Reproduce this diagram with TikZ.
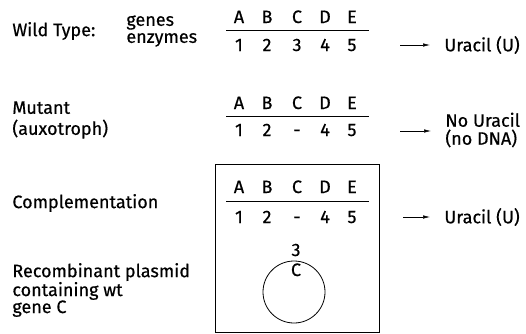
\documentclass[tikz,border=0pt]{standalone}
\usepackage{fontspec}
\setmainfont{Fira Sans}[RawFeature={embolden=0.5}]
\usetikzlibrary{arrows.meta}

\tikzset{
  lbl/.style={anchor=west, align=left, inner sep=0pt, font=\fontsize{18}{17}\selectfont},
  gene/.style={anchor=base, inner sep=0pt, font=\fontsize{18}{17}\selectfont},
  prod/.style={-{Latex[length=7pt,width=3.5pt]}, semithick, shorten >=14pt},
}

\begin{document}
\begin{tikzpicture}[x=1pt, y=-1pt, thick]
	\useasboundingbox (0,0) rectangle (526,333);

	% row labels
	\node[lbl] (wt) at (12,31) {Wild Type:};
	\node[lbl] (genes) at (126,31) {genes\\enzymes};
	\node[lbl] (mut) at (12,120) {Mutant\\[4pt](auxotroph)};
	\node[lbl] (compl) at (12,203) {Complementation};
	\node[lbl] (plas) at (12,290) {Recombinant plasmid\\containing wt\\gene C};

	% wild type (nodes sit on their baseline)
	\foreach \g/\n/\x in {A/1/239, B/2/267, C/3/297, D/4/325, E/5/352} {
		\node[gene] (wt\g) at (\x,23) {\g};
		\node[gene] (wt\n) at (\x,51) {\n};
	}
	\draw (226,30) -- (369,30);
	\coordinate (wtout) at (400,45);
	\node[lbl] (wtura) at (444,45) {Uracil (U)};
	\draw[prod] (wtout) -- (wtura.west);

	% mutant, gene C lost
	\foreach \g/\n/\x in {A/1/239, B/2/267, C/-/297, D/4/325, E/5/352} {
		\node[gene] (mu\g) at (\x,109) {\g};
		\node[gene] (mu\n) at (\x,136) {\n};
	}
	\draw (226,116) -- (369,116);
	\coordinate (muout) at (400,131);
	\node[lbl] (muura) at (445,130) {No Uracil\\[1pt](no DNA)};
	\draw[prod] (muout) -- (muura.west |- muout);

	% mutant carrying the plasmid
	\draw[semithick] (215,164) rectangle (379,332);
	\foreach \g/\n/\x in {A/1/239, B/2/267, C/-/297, D/4/325, E/5/352} {
		\node[gene] (co\g) at (\x,193) {\g};
		\node[gene] (co\n) at (\x,223) {\n};
	}
	\draw (226,201) -- (369,201);
	\coordinate (coout) at (403,217);
	\node[lbl] (coura) at (444,217) {Uracil (U)};
	\draw[prod] (coout) -- (coura.west);

	\node[gene] (p3) at (296,256) {3};
	\draw (294,292) circle (31);
	\node[gene] (pC) at (296,276) {C};
\end{tikzpicture}
\end{document}
